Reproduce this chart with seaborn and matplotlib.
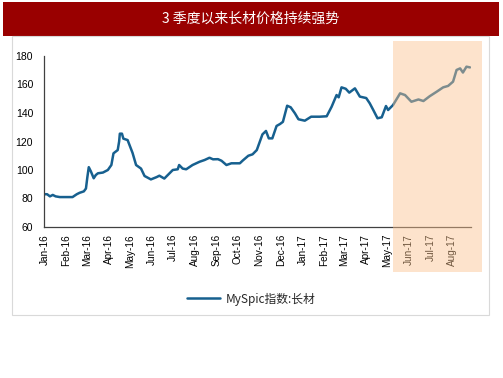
import seaborn as sns
import matplotlib.pyplot as plt
import matplotlib.dates as mdates
from matplotlib.patches import Rectangle
import pandas as pd

# MySpic index: long products
dates = ['2016-01-01', '2016-01-05', '2016-01-09', '2016-01-13', '2016-01-17', '2016-01-23',
         '2016-01-30', '2016-02-06', '2016-02-10', '2016-02-16', '2016-02-20', '2016-02-26',
         '2016-02-29', '2016-03-02', '2016-03-04', '2016-03-07', '2016-03-11', '2016-03-14',
         '2016-03-17', '2016-03-24', '2016-03-31', '2016-04-05', '2016-04-08', '2016-04-14',
         '2016-04-16', '2016-04-17', '2016-04-20', '2016-04-22', '2016-04-28', '2016-05-05',
         '2016-05-10', '2016-05-17', '2016-05-22', '2016-05-31', '2016-06-08', '2016-06-12',
         '2016-06-19', '2016-06-24', '2016-07-01', '2016-07-08', '2016-07-10', '2016-07-15',
         '2016-07-20', '2016-07-29', '2016-08-08', '2016-08-15', '2016-08-22', '2016-08-27',
         '2016-09-03', '2016-09-08', '2016-09-15', '2016-09-22', '2016-10-04', '2016-10-08',
         '2016-10-16', '2016-10-22', '2016-10-28', '2016-11-05', '2016-11-10', '2016-11-14',
         '2016-11-19', '2016-11-25', '2016-11-30', '2016-12-04', '2016-12-10', '2016-12-15',
         '2016-12-21', '2016-12-26', '2017-01-04', '2017-01-13', '2017-01-25', '2017-02-04',
         '2017-02-11', '2017-02-18', '2017-02-21', '2017-02-25', '2017-03-03', '2017-03-08',
         '2017-03-16', '2017-03-23', '2017-04-01', '2017-04-06', '2017-04-11', '2017-04-17',
         '2017-04-23', '2017-04-29', '2017-05-02', '2017-05-09', '2017-05-19', '2017-05-26',
         '2017-06-04', '2017-06-14', '2017-06-21', '2017-06-30', '2017-07-10', '2017-07-19',
         '2017-07-26', '2017-08-02', '2017-08-07', '2017-08-12', '2017-08-16', '2017-08-21',
         '2017-08-26']
values = [83, 83, 81.5, 82.5, 81.5, 81,
          81, 81, 81, 83, 84, 85,
          87, 95, 102, 99, 94.2, 96.5,
          97.7, 98.2, 100, 103.5, 111.7, 114,
          120, 125.5, 125.5, 122, 121, 112,
          103.5, 101, 95.8, 93.4, 95, 96,
          94, 96.5, 100, 100.5, 103.5, 101,
          100.5, 103.5, 105.8, 107, 108.6, 107.5,
          107.6, 106.5, 103.5, 104.7, 104.7, 106.6,
          110, 111, 114, 125, 127.4, 122.2,
          122.2, 130.9, 132.3, 133.8, 145.1, 144,
          139.8, 135.6, 134.6, 137.4, 137.4, 137.7,
          144.4, 152.6, 151, 158, 157, 154.3,
          157.3, 151.5, 150.5, 146.8, 142.1, 136.3,
          137, 144.9, 142.1, 145.6, 153.8, 152.6,
          147.9, 149.5, 148.4, 151.8, 155, 158,
          159, 162, 170.2, 171.3, 168.4, 172.5,
          172]
series_name = 'MySpic指数:长材'
title = '3 季度以来长材价格持续强势'

df = pd.DataFrame({'date': pd.to_datetime(dates), 'value': values})

sns.set_style('white')
plt.rcParams['font.family'] = ['Liberation Sans', 'Noto Sans CJK SC', 'DejaVu Sans']

fig = plt.figure(figsize=(5.03, 3.78), dpi=100)
W, H = 503, 378

# title bar and outer frame
fig.patches.append(Rectangle((3 / W, 1 - 36 / H), 496 / W, 34 / H, transform=fig.transFigure,
                             facecolor='#990000', edgecolor='none', zorder=0))
fig.text(251 / W, 1 - 19 / H, title, color='white', fontsize=10, ha='center', va='center',
         family=['Noto Sans CJK SC', 'DejaVu Sans'])
fig.patches.append(Rectangle((11.5 / W, 1 - 315 / H), 477 / W, 279 / H, transform=fig.transFigure,
                             facecolor='none', edgecolor='#d9d9d9', linewidth=0.8, zorder=0))

ax = fig.add_axes([44.3 / W, 1 - 227 / H, 426.4 / W, 171 / H])
ax.patch.set_alpha(0)
sns.lineplot(data=df, x='date', y='value', ax=ax, color='#17608F', linewidth=1.8,
             label=series_name)

ax.set_xlim(pd.Timestamp('2016-01-01'), pd.Timestamp('2017-08-27'))
ax.set_ylim(60, 180)
ax.set_yticks(range(60, 181, 20))
ax.xaxis.set_major_locator(mdates.MonthLocator())
ax.xaxis.set_major_formatter(mdates.DateFormatter('%b-%y'))
ax.set_xlabel('')
ax.set_ylabel('')
for s in ['top', 'right']:
    ax.spines[s].set_visible(False)
for s in ['left', 'bottom']:
    ax.spines[s].set_color('#404040')
    ax.spines[s].set_linewidth(0.9)
ax.tick_params(axis='x', direction='in', length=3, pad=5, labelsize=7.2, rotation=90,
               colors='#404040', labelcolor='black')
ax.tick_params(axis='y', direction='out', length=3, pad=5, labelsize=7.5,
               colors='#404040', labelcolor='black')
plt.setp(ax.get_xticklabels(), ha='center')

ax.legend(loc='center', bbox_to_anchor=(0.5, 1 - 299 / H), bbox_transform=fig.transFigure,
          frameon=False, handlelength=2.8, handletextpad=0.5,
          prop={'family': ['Noto Sans CJK SC', 'DejaVu Sans'], 'size': 8.5})

# highlighted recent period overlay
fig.patches.append(Rectangle((393 / W, 1 - 272 / H), 89 / W, 231 / H, transform=fig.transFigure,
                             facecolor='#FBC38E', edgecolor='none', alpha=0.45, zorder=5))

fig.savefig('out.png', dpi=100)
